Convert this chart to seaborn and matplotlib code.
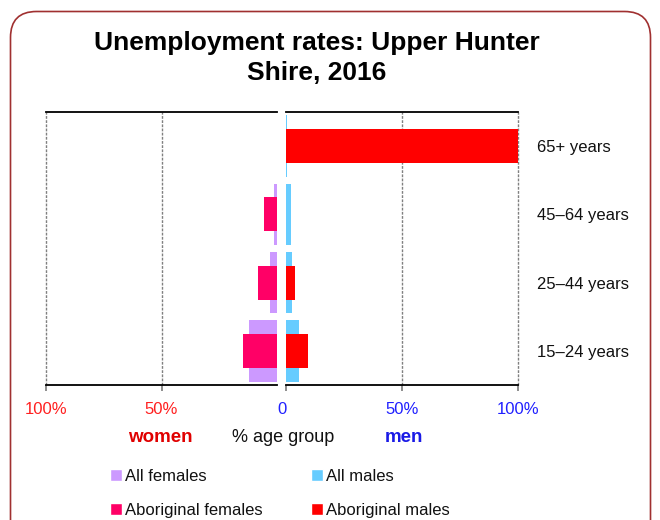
import matplotlib
matplotlib.use("Agg")
import matplotlib.pyplot as plt
import matplotlib.transforms as mtransforms
import pandas as pd
import seaborn as sns
from matplotlib.patches import FancyBboxPatch, Patch

# Data (percent unemployed)
age_groups = ["65+ years", "45–64 years", "25–44 years", "15–24 years"]
all_females = [0.0, 1.3, 3.0, 12.0]
aboriginal_females = [0.0, 5.5, 8.4, 14.8]
all_males = [0.3, 2.0, 2.7, 5.7]
aboriginal_males = [100.0, 0.0, 3.7, 9.6]

left_ticks = [100, 50]
left_tick_labels = ["100%", "50%"]
right_ticks = [0, 50, 100]
right_tick_labels = ["0", "50%", "100%"]

female_names = ["All females", "Aboriginal females"]
male_names = ["All males", "Aboriginal males"]
female_colors = ["#CC99FF", "#FF0066"]
male_colors = ["#66CCFF", "#FF0000"]

sns.set_theme(style="white")
plt.rcParams["font.family"] = ["Liberation Sans", "DejaVu Sans"]

women = pd.DataFrame({"age": age_groups, "all": all_females, "abor": aboriginal_females})
men = pd.DataFrame({"age": age_groups, "all": all_males, "abor": aboriginal_males})

fig = plt.figure(figsize=(6.6, 5.2), dpi=100)

# rounded frame round the whole chart
frame = FancyBboxPatch(
    (0.105, -0.4), 6.40, 5.485,
    boxstyle="round,pad=0,rounding_size=0.26",
    transform=fig.dpi_scale_trans,
    facecolor="white", edgecolor="#A03030", linewidth=1.2, zorder=-10,
)
fig.patches.append(frame)

bottom = (520 - 385) / 520
height = 273 / 520
ax_l = fig.add_axes([46 / 660, bottom, 231 / 660, height])
ax_r = fig.add_axes([286 / 660, bottom, 232 / 660, height])

for ax, df, cols in [(ax_l, women, female_colors), (ax_r, men, male_colors)]:
    sns.barplot(data=df, x="all", y="age", order=age_groups, color=cols[0],
                saturation=1, width=0.9, errorbar=None, linewidth=0, ax=ax)
    sns.barplot(data=df, x="abor", y="age", order=age_groups, color=cols[1],
                saturation=1, width=0.5, errorbar=None, linewidth=0, ax=ax)
    ax.set_xlabel("")
    ax.set_ylabel("")
    for side in ["left", "right"]:
        ax.spines[side].set_visible(False)
    for side in ["top", "bottom"]:
        ax.spines[side].set_color("black")
        ax.spines[side].set_linewidth(1.3)
    for x in [50, 100]:
        ax.axvline(x, color="#808080", linestyle=(0, (2, 1)), linewidth=1,
                   zorder=0, clip_on=False)

ax_l.set_xlim(100, 0)
ax_l.set_xticks(left_ticks)
ax_l.set_xticklabels(left_tick_labels)
ax_l.tick_params(axis="x", bottom=True, length=4, color="#808080",
                 labelcolor="#FF2020", labelsize=12, pad=8)
ax_l.set_yticks([])

ax_r.set_xlim(0, 100)
ax_r.set_xticks(right_ticks)
ax_r.set_xticklabels(right_tick_labels)
ax_r.tick_params(axis="x", bottom=True, length=4, color="#808080",
                 labelcolor="#2020FF", labelsize=12, pad=8)
# the "0" sits in the gap between the two halves
shift = mtransforms.ScaledTranslation(-4 / 100, 0, fig.dpi_scale_trans)
zero_label = ax_r.get_xticklabels()[0]
zero_label.set_transform(zero_label.get_transform() + shift)
ax_r.yaxis.tick_right()
ax_r.tick_params(axis="y", right=True, length=0, pad=14, labelsize=12,
                 labelcolor="#111111")

fig.text(317 / 660, 1 - 58 / 520, "Unemployment rates: Upper Hunter\nShire, 2016",
         ha="center", va="center", fontsize=19, fontweight="bold",
         linespacing=1.35, color="black")

axis_y = 1 - 438 / 520
fig.text(160 / 660, axis_y, "women", ha="center", va="center", fontsize=13.5,
         fontweight="bold", color="#E00000")
fig.text(283 / 660, axis_y, "% age group", ha="center", va="center",
         fontsize=13, color="#111111")
fig.text(404 / 660, axis_y, "men", ha="center", va="center", fontsize=13.5,
         fontweight="bold", color="#1A1AE6")

legend_kw = dict(loc="upper left", frameon=False, handlelength=0.7, handleheight=0.7,
                 handletextpad=0.2, labelspacing=1.15, fontsize=12,
                 borderaxespad=0, borderpad=0, labelcolor="#111111")
fig.legend(handles=[Patch(facecolor=c, label=n) for c, n in zip(female_colors, female_names)],
           bbox_to_anchor=(110 / 660, 1 - 469 / 520), **legend_kw)
fig.legend(handles=[Patch(facecolor=c, label=n) for c, n in zip(male_colors, male_names)],
           bbox_to_anchor=(311 / 660, 1 - 469 / 520), **legend_kw)

fig.savefig("out.png", dpi=100)
